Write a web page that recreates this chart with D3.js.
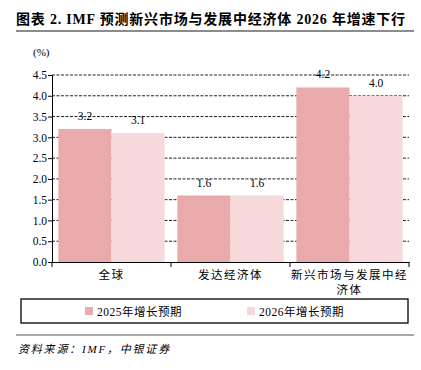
<!DOCTYPE html>
<html>
<head>
<meta charset="utf-8">
<script src="https://cdn.jsdelivr.net/npm/d3@7"></script>
<style>
	body { margin: 0; background: #fff; }
	text { font-family: "Liberation Serif", "Noto Sans CJK SC", serif; }
</style>
</head>
<body>
<svg id="chart" width="421" height="370"></svg>
<script>
// chart data
const categories = ['全球', '发达经济体', '新兴市场与发展中经济体'];
const series = ['2025年增长预期', '2026年增长预期'];
const values2025 = [3.2, 1.6, 4.2];
const values2026 = [3.1, 1.6, 4.0];
const yTicks = [0, 0.5, 1, 1.5, 2, 2.5, 3, 3.5, 4, 4.5];
const colors = ['#e9aaab', '#f7d9db'];

let svg = d3.select('#chart');

// title and rules
svg.append('text').attr('x', 16).attr('y', 24)
	.style('font-size', '14px').style('font-weight', 'bold').style('letter-spacing', '0.8px')
	.text('图表 2. IMF 预测新兴市场与发展中经济体 2026 年增速下行');
svg.append('line').attr('x1', 16).attr('x2', 414).attr('y1', 31).attr('y2', 31)
	.style('stroke', '#8c8c8c').style('stroke-width', 2);
svg.append('line').attr('x1', 16).attr('x2', 414).attr('y1', 335).attr('y2', 335)
	.style('stroke', '#8c8c8c').style('stroke-width', 1.5);
svg.append('text').attr('x', 18).attr('y', 353)
	.style('font-size', '11px').style('font-style', 'italic').style('letter-spacing', '1.8px')
	.text('资料来源：IMF，中银证券');

svg.append('text').attr('x', 33).attr('y', 56).style('font-size', '11px').text('(%)');

let x0 = d3.scaleBand().domain(categories).range([52, 409]);
let x1 = d3.scaleBand().domain(series).range([0, x0.bandwidth()]).paddingOuter(0.12);
let y = d3.scaleLinear().domain([0, 4.5]).range([262, 75]);

// dashed grid
svg.append('g').selectAll('line').data(yTicks.slice(1)).join('line')
	.attr('x1', 52).attr('x2', 409)
	.attr('y1', d => y(d)).attr('y2', d => y(d))
	.style('stroke', '#222').style('stroke-dasharray', '3,1.5').style('stroke-width', 1);

// bars
let rows = categories.map((c, i) => ({cat: c, vals: [values2025[i], values2026[i]]}));
let groups = svg.append('g').selectAll('g').data(rows).join('g')
	.attr('transform', d => 'translate(' + x0(d.cat) + ',0)');
groups.selectAll('rect').data(d => d.vals.map((v, j) => ({s: series[j], v: v, j: j}))).join('rect')
	.attr('x', d => x1(d.s))
	.attr('y', d => y(d.v))
	.attr('width', x1.bandwidth())
	.attr('height', d => y(0) - y(d.v))
	.style('fill', d => colors[d.j]);
groups.selectAll('text').data(d => d.vals.map((v, j) => ({s: series[j], v: v}))).join('text')
	.attr('x', d => x1(d.s) + x1.bandwidth() / 2)
	.attr('y', d => y(d.v) - 9)
	.attr('text-anchor', 'middle')
	.style('font-size', '11.5px')
	.text(d => d.v.toFixed(1));

// y axis
let yAxis = svg.append('g').attr('transform', 'translate(52,0)')
	.call(d3.axisLeft(y).tickValues(yTicks).tickFormat(d3.format('.1f')).tickSize(4));
yAxis.select('.domain').style('stroke', '#000');
yAxis.selectAll('text').style('font-size', '11.5px').attr('x', -5).style('fill', '#000');

// x axis
let xAxis = svg.append('g').attr('transform', 'translate(0,262)')
	.call(d3.axisBottom(x0).tickValues([]).tickSizeOuter(0));
xAxis.select('.domain').style('stroke', '#000');
xAxis.selectAll('line.sep').data([52, 171, 290, 409]).join('line')
	.attr('x1', d => d).attr('x2', d => d).attr('y1', 0).attr('y2', 5)
	.style('stroke', '#000');
let xlabels = [['全球'], ['发达经济体'], ['新兴市场与发展中经', '济体']];
xAxis.selectAll('text.lab').data(categories).join('text')
	.attr('x', d => x0(d) + x0.bandwidth() / 2)
	.attr('y', 17)
	.attr('text-anchor', 'middle')
	.style('font-size', '11.5px')
	.style('fill', '#000')
	.selectAll('tspan').data((d, i) => xlabels[i]).join('tspan')
	.attr('x', function() { return d3.select(this.parentNode).attr('x'); })
	.attr('dy', (d, i) => i == 0 ? 0 : 15)
	.style('letter-spacing', '1.5px')
	.text(d => d);

// legend
svg.append('rect').attr('x', 21).attr('y', 299).attr('width', 387).attr('height', 24)
	.style('fill', 'none').style('stroke', '#000').style('stroke-width', 1.3);
let lx = [85, 247];
let leg = svg.append('g').selectAll('g').data(series).join('g')
	.attr('transform', (d, i) => 'translate(' + lx[i] + ',307)');
leg.append('rect').attr('width', 8).attr('height', 8)
	.style('fill', (d, i) => colors[i]);
leg.append('text').attr('x', 12).attr('y', 8.5).style('font-size', '11.5px')
	.style('letter-spacing', '0.5px').text(d => d);
</script>
</body>
</html>
